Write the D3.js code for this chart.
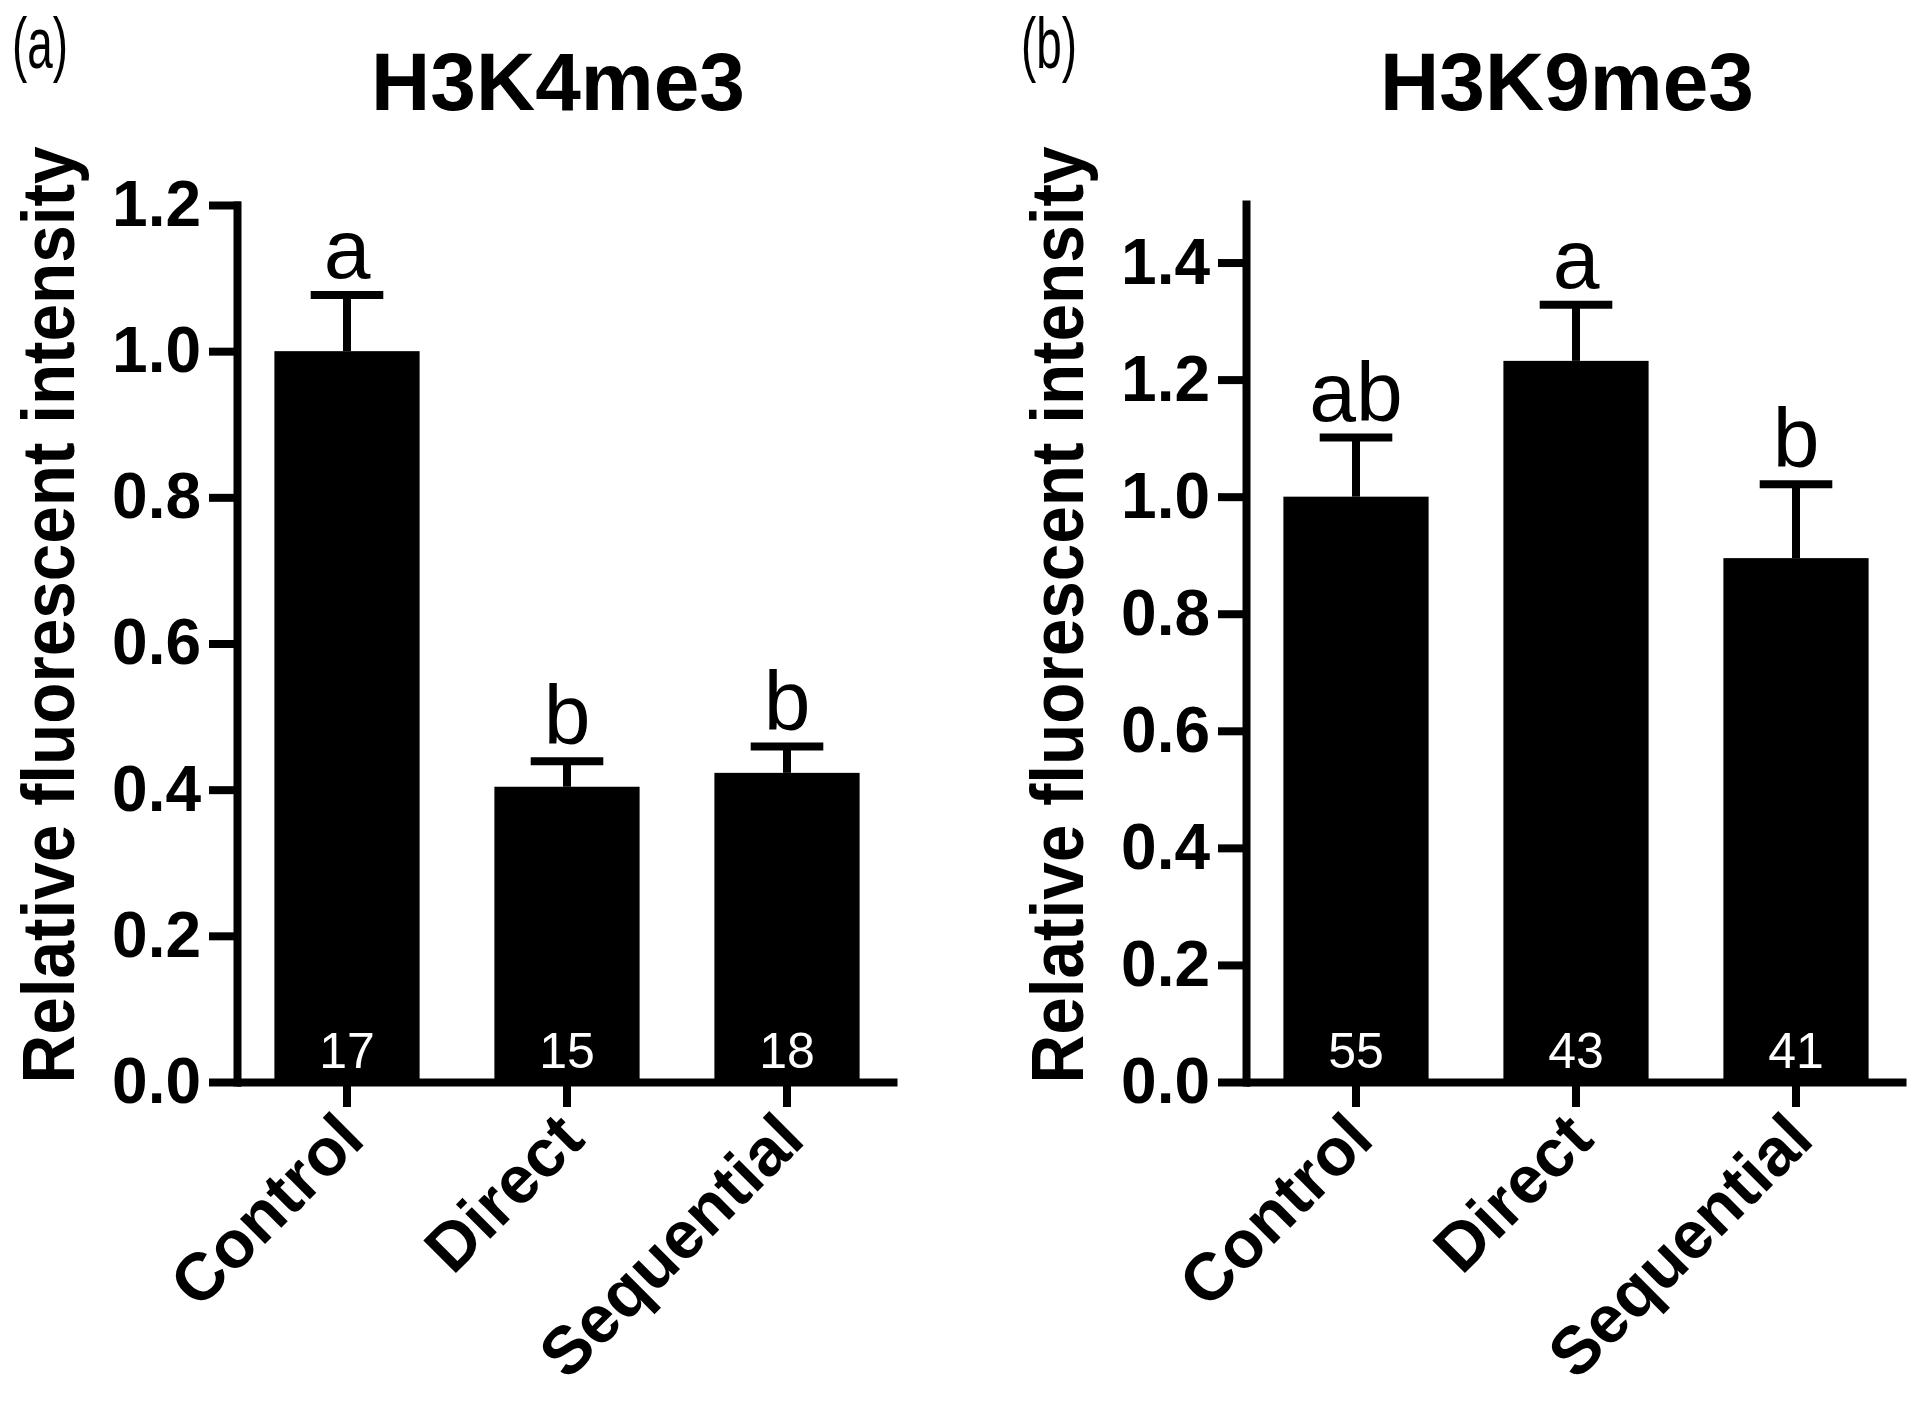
<!DOCTYPE html>
<html>
<head>
<meta charset="utf-8">
<script src="https://cdn.jsdelivr.net/npm/d3@7"></script>
<style>
  body { margin: 0; background: #fff; }
  svg text { font-family: "Liberation Sans", Arial, Helvetica, sans-serif; }
</style>
</head>
<body>
<div id="chart"></div>
<script>
'use strict';

var categories = ['Control', 'Direct', 'Sequential'];

// panel (a) H3K4me3
var k4Means = [1.0, 0.404, 0.423];
var k4Sem = [0.077, 0.035, 0.036];
var k4Letters = ['a', 'b', 'b'];
var k4N = ['17', '15', '18'];
var k4Ticks = [0, 0.2, 0.4, 0.6, 0.8, 1.0, 1.2];

// panel (b) H3K9me3
var k9Means = [1.0, 1.232, 0.895];
var k9Sem = [0.101, 0.096, 0.126];
var k9Letters = ['ab', 'a', 'b'];
var k9N = ['55', '43', '41'];
var k9Ticks = [0, 0.2, 0.4, 0.6, 0.8, 1.0, 1.2, 1.4];

var W = 1920, H = 1406;
var svg = d3.select('#chart').append('svg')
  .attr('width', W).attr('height', H);

function drawPanel(opt) {
  var g = svg.append('g');
  var y = d3.scaleLinear().domain([0, opt.yMax]).range([1082, opt.top]);
  var x = d3.scaleBand().domain(categories)
    .range([opt.left, opt.left + 660])
    .paddingInner(0.34).paddingOuter(0.17);

  var rows = categories.map(function(c, i) {
    return { cat: c, mean: opt.means[i], sem: opt.sem[i], letter: opt.letters[i], n: opt.n[i] };
  });

  // bars
  g.selectAll('rect.bar').data(rows).enter()
    .append('rect').attr('class', 'bar')
    .attr('x', function(d) { return x(d.cat); })
    .attr('y', function(d) { return y(d.mean); })
    .attr('width', x.bandwidth())
    .attr('height', function(d) { return y(0) - y(d.mean); })
    .attr('fill', '#000');

  // error bars (upper only)
  var eb = g.selectAll('g.err').data(rows).enter().append('g').attr('class', 'err')
    .attr('stroke', '#000').attr('stroke-width', 8);
  eb.append('line')
    .attr('x1', function(d) { return x(d.cat) + x.bandwidth() / 2; })
    .attr('x2', function(d) { return x(d.cat) + x.bandwidth() / 2; })
    .attr('y1', function(d) { return y(d.mean); })
    .attr('y2', function(d) { return y(d.mean + d.sem); });
  eb.append('line')
    .attr('x1', function(d) { return x(d.cat) + x.bandwidth() / 4; })
    .attr('x2', function(d) { return x(d.cat) + x.bandwidth() * 3 / 4; })
    .attr('y1', function(d) { return y(d.mean + d.sem); })
    .attr('y2', function(d) { return y(d.mean + d.sem); });

  // significance letters
  g.selectAll('text.letter').data(rows).enter()
    .append('text').attr('class', 'letter')
    .attr('x', function(d) { return x(d.cat) + x.bandwidth() / 2; })
    .attr('y', function(d) { return y(d.mean + d.sem) - 17; })
    .attr('text-anchor', 'middle')
    .attr('font-size', 84)
    .text(function(d) { return d.letter; });

  // n inside bars
  g.selectAll('text.n').data(rows).enter()
    .append('text').attr('class', 'n')
    .attr('x', function(d) { return x(d.cat) + x.bandwidth() / 2; })
    .attr('y', 1068)
    .attr('text-anchor', 'middle')
    .attr('font-size', 50)
    .attr('fill', '#fff')
    .text(function(d) { return d.n; });

  // y axis
  var yAxis = g.append('g')
    .attr('transform', 'translate(' + opt.left + ',0)')
    .call(d3.axisLeft(y).tickValues(opt.ticks).tickSize(24).tickSizeOuter(0)
      .tickFormat(d3.format('.1f')).tickPadding(12));
  yAxis.selectAll('path, line').attr('stroke', '#000').attr('stroke-width', 8)
    .attr('stroke-linecap', 'square');
  yAxis.selectAll('text').attr('font-size', 64).attr('font-weight', 'bold')
    .attr('fill', '#000').attr('font-family', null);

  // x axis
  var xAxis = g.append('g')
    .attr('transform', 'translate(0,' + y(0) + ')')
    .call(d3.axisBottom(x).tickSize(25).tickSizeOuter(0));
  xAxis.selectAll('path, line').attr('stroke', '#000').attr('stroke-width', 8);
  xAxis.selectAll('text').remove();

  g.selectAll('text.cat').data(categories).enter()
    .append('text').attr('class', 'cat')
    .attr('transform', function(d) {
      return 'translate(' + (x(d) + x.bandwidth() / 2 + 20) + ',1142) rotate(-45)';
    })
    .attr('text-anchor', 'end')
    .attr('font-size', 67)
    .attr('font-weight', 'bold')
    .text(function(d) { return d; });

  // y title
  g.append('text')
    .attr('transform', 'translate(' + (opt.left - 163) + ',615) rotate(-90)')
    .attr('text-anchor', 'middle')
    .attr('font-size', 74)
    .attr('font-weight', 'bold')
    .attr('textLength', 937)
    .attr('lengthAdjust', 'spacingAndGlyphs')
    .text('Relative fluorescent intensity');

  // panel title
  g.append('text')
    .attr('x', opt.left + 321).attr('y', 110)
    .attr('text-anchor', 'middle')
    .attr('font-size', 82)
    .attr('font-weight', 'bold')
    .text(opt.title);

  g.append('text')
    .attr('x', opt.left - 225).attr('y', 68)
    .attr('font-size', 72)
    .attr('textLength', 56)
    .attr('lengthAdjust', 'spacingAndGlyphs')
    .text(opt.tag);
}

drawPanel({ left: 237, top: 205, yMax: 1.2, ticks: k4Ticks, means: k4Means, sem: k4Sem,
  letters: k4Letters, n: k4N, title: 'H3K4me3', tag: '(a)' });
drawPanel({ left: 1246, top: 204, yMax: 1.5, ticks: k9Ticks, means: k9Means, sem: k9Sem,
  letters: k9Letters, n: k9N, title: 'H3K9me3', tag: '(b)' });
</script>
</body>
</html>
